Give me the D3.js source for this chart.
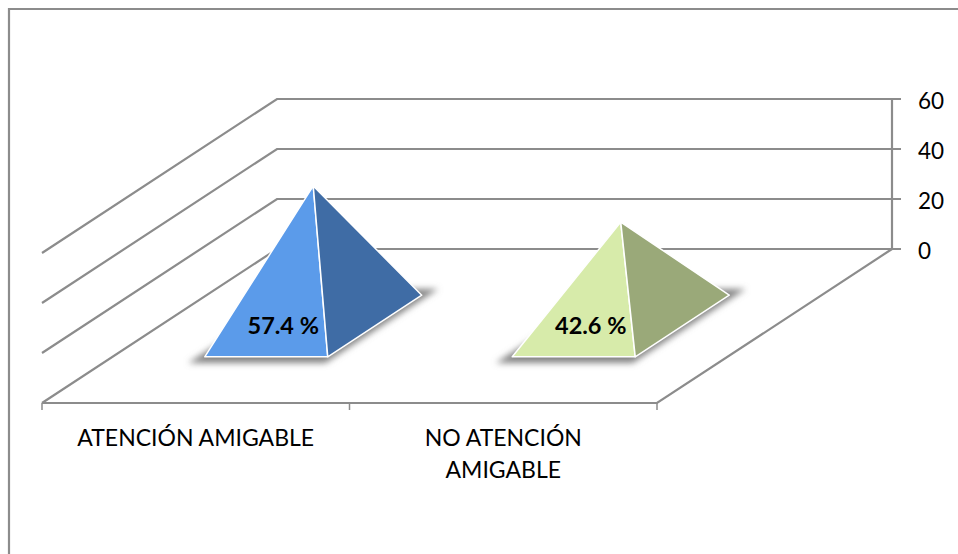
<!doctype html>
<html lang="es">
  <head>
    <meta charset="UTF-8" />
    <title>Atención amigable</title>
    <script src="https://d3js.org/d3.v7.min.js"></script>
    <style>
      body {
        margin: 0;
        background-color: #ffffff;
        overflow: hidden;
      }
      text {
        font-family: 'Lato', sans-serif;
        fill: #000000;
      }
      .gridline {
        fill: none;
        stroke: #8c8c8c;
        stroke-width: 2.2;
      }
      .value-label {
        font-size: 23.5px;
        font-weight: 700;
      }
      .tick-label {
        font-size: 22.5px;
      }
      .category-label {
        font-size: 23px;
      }
    </style>
  </head>
  <body>
    <svg id="chart" width="958" height="554"></svg>

    <script>
      // Data
      const categories = ['ATENCIÓN AMIGABLE', 'NO ATENCIÓN AMIGABLE']
      const values = [57.4, 42.6]
      const valueLabels = ['57.4 %', '42.6 %']
      const yTicks = [0, 20, 40, 60]
      const categoryLines = [['ATENCIÓN AMIGABLE'], ['NO ATENCIÓN', 'AMIGABLE']]
      const lightColors = ['#5b9bea', '#d7ebaa']
      const darkColors = ['#3f6ca5', '#9aa979']

      const svg = d3.select('#chart')

      // Front edge of the floor, and how far the depth axis slants back
      const xBand = d3
        .scaleBand()
        .domain(categories)
        .range([42, 657])
        .paddingInner(0.6)
        .paddingOuter(0.3)
      const xStep = xBand.step()
      const depthX = d3.scaleLinear().domain([0, 1]).range([0, 235])
      const depthY = d3.scaleLinear().domain([0, 1]).range([0, -154])

      // Wall scale, and the slightly shorter rise of a mark standing mid-floor
      const yWall = d3.scaleLinear().domain([0, 60]).range([403, 253])
      const yRise = d3.scaleLinear().domain([0, 60]).range([0, 146.4])

      const project = (x, depth, rise = 0) => [
        x + depthX(depth),
        403 + depthY(depth) - rise,
      ]

      const defs = svg.append('defs')
      defs
        .append('filter')
        .attr('id', 'soft-shadow')
        .attr('x', '-20%')
        .attr('y', '-30%')
        .attr('width', '140%')
        .attr('height', '160%')
        .append('feGaussianBlur')
        .attr('stdDeviation', 3)

      // Outer frame, open at the right and bottom edges
      svg
        .append('path')
        .attr('class', 'gridline')
        .attr('d', 'M9,554V9H958')

      // Gridlines along the left wall and back wall
      const frontLeft = xBand.range()[0]
      const frontRight = xBand.range()[1]
      svg
        .selectAll('.wall-line')
        .data(yTicks)
        .enter()
        .append('path')
        .attr('class', 'gridline wall-line')
        .attr('d', (d) => {
          const y = yWall(d)
          return `M${frontLeft},${y}L${frontLeft + depthX(1)},${y + depthY(1)}H${frontRight + depthX(1) + 9}`
        })

      // Back wall axis line
      svg
        .append('line')
        .attr('class', 'gridline')
        .attr('x1', frontRight + depthX(1))
        .attr('x2', frontRight + depthX(1))
        .attr('y1', yWall(60) + depthY(1))
        .attr('y2', yWall(0) + depthY(1))

      // Floor: front edge, right edge and category ticks
      svg
        .append('path')
        .attr('class', 'gridline')
        .attr('d', `M${frontLeft},403H${frontRight}L${frontRight + depthX(1)},${403 + depthY(1)}`)

      svg
        .selectAll('.category-tick')
        .data(d3.range(categories.length + 1))
        .enter()
        .append('line')
        .attr('class', 'category-tick')
        .attr('x1', (d) => frontLeft + d * xStep)
        .attr('x2', (d) => frontLeft + d * xStep)
        .attr('y1', 403)
        .attr('y2', 410)
        .attr('stroke', '#8c8c8c')
        .attr('stroke-width', 1.5)

      // Value axis labels
      svg
        .selectAll('.tick-label')
        .data(yTicks)
        .enter()
        .append('text')
        .attr('class', 'tick-label')
        .attr('x', frontRight + depthX(1) + 26)
        .attr('y', (d) => yWall(d) + depthY(1) + 2)
        .attr('dy', '0.35em')
        .text((d) => d)

      // Category labels
      const categoryGroups = svg
        .selectAll('.category-label')
        .data(categories)
        .enter()
        .append('text')
        .attr('class', 'category-label')
        .attr('text-anchor', 'middle')
      categoryGroups.each(function (d, i) {
        const cx = xBand(d) + xBand.bandwidth() / 2
        d3.select(this)
          .selectAll('tspan')
          .data(categoryLines[i])
          .enter()
          .append('tspan')
          .attr('x', cx)
          .attr('y', (line, j) => 446 + j * 32)
          .text((line) => line)
      })

      // Pyramids: shadow on the floor, then the two visible faces
      const pyramids = svg
        .selectAll('.pyramid')
        .data(categories)
        .enter()
        .append('g')
        .attr('class', 'pyramid')

      pyramids.each(function (d, i) {
        const g = d3.select(this)
        const x0 = xBand(d)
        const x1 = x0 + xBand.bandwidth()
        const d0 = 0.3
        const d1 = 0.7
        const fl = project(x0, d0)
        const fr = project(x1, d0)
        const br = project(x1, d1)
        const apex = project((x0 + x1) / 2, 0.5, yRise(values[i]))

        const shadow = [
          project(x0 - 7, d0 - 0.04),
          project(x1 + 7, d0 - 0.04),
          project(x1 + 7, d1 + 0.04),
          project(x0 - 7, d1 + 0.04),
        ]
        g.append('polygon')
          .attr('points', shadow.join(' '))
          .attr('fill', '#858585')
          .attr('filter', 'url(#soft-shadow)')

        g.append('polygon')
          .attr('points', [fl, fr, apex].join(' '))
          .attr('fill', lightColors[i])
          .attr('stroke', '#ffffff')
          .attr('stroke-width', 1.5)
          .attr('stroke-linejoin', 'round')

        g.append('polygon')
          .attr('points', [fr, br, apex].join(' '))
          .attr('fill', darkColors[i])
          .attr('stroke', '#ffffff')
          .attr('stroke-width', 1.5)
          .attr('stroke-linejoin', 'round')

        g.append('text')
          .attr('class', 'value-label')
          .attr('text-anchor', 'middle')
          .attr('x', project((x0 + x1) / 2, 0.5)[0] - 30)
          .attr('y', 326)
          .attr('dy', '0.35em')
          .text(valueLabels[i])
      })
    </script>
  </body>
</html>
